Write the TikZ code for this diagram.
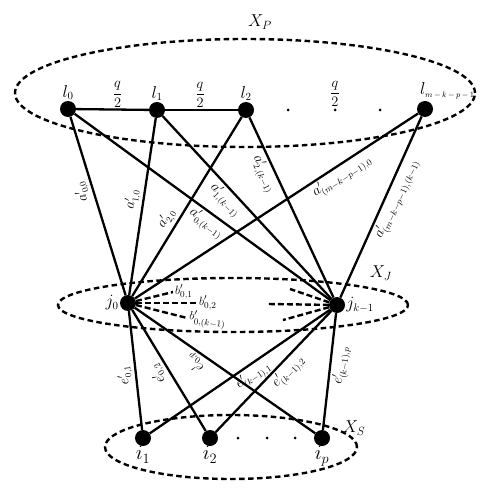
\documentclass[tikz,border=0pt]{standalone}
\usepackage{amsmath}
\begin{document}
\begin{tikzpicture}[x=1bp,y=-1bp,
  dot/.style={circle,fill=black,inner sep=0pt,minimum size=16bp},
  tinydot/.style={circle,fill=black,inner sep=0pt,minimum size=3bp},
  edge/.style={line width=2.3bp},
  grp/.style={line width=2.4bp,dash pattern=on 5.5bp off 3.5bp},
  spoke/.style={line width=2.4bp,dash pattern=on 6bp off 3bp},
  elab/.style={font=\fontsize{13.5}{15}\selectfont,sloped,allow upside down,inner sep=2bp},
  blab/.style={font=\fontsize{13}{15}\selectfont,inner sep=1bp},
  nlab/.style={font=\fontsize{16}{18}\selectfont,inner sep=1bp},
  ilab/.style={font=\fontsize{20}{22}\selectfont,inner sep=0bp},
  glab/.style={font=\fontsize{18}{20}\selectfont,inner sep=0pt},
  frac/.style={font=\fontsize{15}{17}\selectfont,inner sep=0pt}
]
\useasboundingbox (0,0) rectangle (489,491);

% groups
\draw[grp] (245,93) ellipse [x radius=230bp, y radius=54bp];
\draw[grp] (233,305) ellipse [x radius=175bp, y radius=27bp];
\draw[grp] (231,447) ellipse [x radius=126bp, y radius=32bp];
\node[glab] (XP) at (260,22) {$X_P$};
\node[glab] (XJ) at (381,273) {$X_J$};
\node[glab] (XS) at (354,428) {$X_S$};

% top layer
\node[dot,label={[nlab]above:$l_0$}] (l0) at (68,109) {};
\node[dot,label={[nlab]above:$l_1$}] (l1) at (157,110) {};
\node[dot,label={[nlab]above:$l_2$}] (l2) at (246,110) {};
\node[dot] (lm) at (425,109) {};
\node[nlab,anchor=south west] (lmlab) at (419,100) {$l_{\scriptscriptstyle m\,-\,k\,-\,p\,-\,1}$};
\node[tinydot] (d1) at (288,110) {};
\node[tinydot] (d2) at (335,110) {};
\node[tinydot] (d3) at (380,110) {};
\node[frac] (q3) at (335,94) {$\dfrac{q}{2}$};

% middle layer
\node[dot,label={[nlab]left:$j_0$}] (j0) at (128,303) {};
\node[dot,label={[nlab]right:$j_{k-1}$}] (jk) at (337,305) {};

% bottom layer
\node[dot,label={[ilab]below:$i_1$}] (i1) at (143,438) {};
\node[dot,label={[ilab]below:$i_2$}] (i2) at (210,438) {};
\node[dot,label={[ilab]below:$i_p$}] (ip) at (322,438) {};
\node[tinydot] (e1) at (238,438) {};
\node[tinydot] (e2) at (267,438) {};
\node[tinydot] (e3) at (295,438) {};

% top edges
\draw[edge] (l0) -- node[frac,pos=0.57,above=1bp]{$\dfrac{q}{2}$} (l1);
\draw[edge] (l1) -- node[frac,pos=0.48,above=1bp]{$\dfrac{q}{2}$} (l2);

% top-to-middle edges
\draw[edge] (j0) -- node[elab,pos=0.6,above]{$a'_{0,0}$} (l0);
\draw[edge] (l0) -- node[elab,pos=0.54,below]{$a'_{0,(k-1)}$} (jk);
\draw[edge] (j0) -- node[elab,pos=0.53,above]{$a'_{1,0}$} (l1);
\draw[edge] (l1) -- node[elab,pos=0.42,below]{$a'_{1,(k-1)}$} (jk);
\draw[edge] (j0) -- node[elab,pos=0.40,above]{$a'_{2,0}$} (l2);
\draw[edge] (l2) -- node[elab,pos=0.29,below]{$a'_{2,(k-1)}$} (jk);
\draw[edge] (j0) -- node[elab,pos=0.71,below]{$a'_{(m-k-p-1),0}$} (lm);
\draw[edge] (jk) -- node[elab,pos=0.57,below]{$a'_{(m-k-p-1),(k-1)}$} (lm);

% middle-to-bottom edges
\draw[edge] (i1) -- node[elab,pos=0.47,above]{$e'_{0,1}$} (j0);
\draw[edge] (i2) -- node[elab,pos=0.52,above]{$e'_{0,2}$} (j0);
\draw[edge] (ip) -- node[elab,pos=0.63,above]{$e'_{0,p}$} (j0);
\draw[edge] (i1) -- node[elab,pos=0.54,below]{$e'_{(k-1),1}$} (jk);
\draw[edge] (i2) -- node[elab,pos=0.56,below]{$e'_{(k-1),2}$} (jk);
\draw[edge] (ip) -- node[elab,pos=0.56,below]{$e'_{(k-1),p}$} (jk);

% dashed spokes inside X_J
\coordinate (b1) at (173,292);
\coordinate (b2) at (197,303);
\coordinate (b3) at (187,318);
\coordinate (c1) at (290,289);
\coordinate (c2) at (268,304);
\coordinate (c3) at (283,320);
\draw[spoke] (j0) -- (b1) node[blab,sloped,anchor=west]{$b'_{0,1}$};
\draw[spoke] (j0) -- (b2) node[blab,anchor=west]{$b'_{0,2}$};
\draw[spoke] (j0) -- (b3) node[blab,anchor=west,rotate=-6]{$b'_{0,(k-1)}$};
\draw[spoke] (jk) -- (c1);
\draw[spoke] (jk) -- (c2);
\draw[spoke] (jk) -- (c3);
\end{tikzpicture}
\end{document}
